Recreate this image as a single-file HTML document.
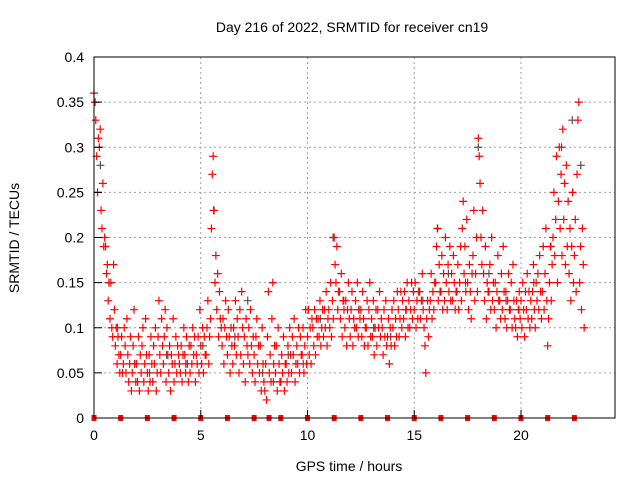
<!DOCTYPE html>
<html><head><meta charset="utf-8"><style>
html,body{margin:0;padding:0;background:#fff;}
svg{display:block;font-family:"Liberation Sans",sans-serif;}
</style></head><body>
<svg id="chart" width="640" height="480">
<rect x="0" y="0" width="640" height="480" fill="#fff"/>
<text x="352" y="32" font-size="14" text-anchor="middle" fill="#000">Day 216 of 2022, SRMTID for receiver cn19</text>
<text x="349" y="471" font-size="14" text-anchor="middle" fill="#000">GPS time / hours</text>
<text transform="translate(19,238) rotate(-90)" font-size="14" text-anchor="middle" fill="#000">SRMTID / TECUs</text>
<g id="grid"></g><g id="gray"></g><g id="red"></g><g id="axes"></g>
</svg>
<script>
const xTicks=[0,5,10,15,20];
const yTicks=[0,0.05,0.1,0.15,0.2,0.25,0.3,0.35,0.4];
const yTickLabels=["0","0.05","0.1","0.15","0.2","0.25","0.3","0.35","0.4"];
const binHours=0.25;
const redBins=[
[.36,.35,.33,.29,.25,.31],[.30,.32,.23,.21,.26,.19],[.20,.19,.16,.17,.13,.15],[.11,.15,.10,.09,.17,.12],
[.08,.10,.06,.09,.07,.05],[.07,.09,.05,.06,.10,.08],[.05,.11,.07,.04,.06,.09],[.03,.05,.08,.12,.06,.04],
[.06,.04,.09,.03,.07,.05],[.08,.10,.04,.06,.11,.07],[.05,.03,.07,.04,.09,.06],[.04,.08,.06,.10,.03,.05],
[.09,.13,.07,.05,.11,.08],[.06,.09,.12,.04,.10,.07],[.05,.08,.03,.07,.06,.11],[.04,.06,.09,.05,.08,.07],
[.06,.05,.08,.04,.07,.10],[.07,.05,.09,.06,.04,.08],[.05,.08,.06,.10,.07,.09],[.04,.07,.06,.09,.05,.12],
[.08,.06,.10,.05,.09,.07],[.07,.10,.13,.06,.09,.11],[.21,.27,.29,.23,.15,.18],[.12,.16,.09,.14,.11,.10],
[.08,.11,.06,.10,.13,.09],[.07,.12,.09,.05,.10,.08],[.06,.10,.08,.13,.07,.11],[.09,.05,.12,.07,.14,.10],
[.06,.09,.04,.11,.08,.07],[.10,.06,.12,.08,.05,.09],[.07,.04,.09,.11,.06,.08],[.05,.08,.03,.10,.06,.04],
[.03,.06,.02,.09,.14,.05],[.07,.04,.11,.15,.06,.08],[.05,.08,.03,.10,.06,.04],[.04,.07,.05,.09,.03,.06],
[.06,.04,.08,.05,.10,.07],[.05,.09,.07,.11,.04,.06],[.08,.06,.10,.05,.09,.07],[.07,.10,.05,.08,.12,.06],
[.09,.12,.07,.10,.06,.11],[.10,.08,.12,.07,.11,.09],[.11,.09,.13,.08,.10,.12],[.09,.12,.10,.14,.08,.11],
[.12,.10,.15,.09,.13,.11],[.20,.17,.15,.19,.12,.14],[.14,.11,.16,.09,.13,.12],[.10,.13,.08,.12,.15,.11],
[.09,.12,.14,.08,.11,.10],[.13,.10,.15,.09,.12,.11],[.12,.09,.14,.11,.08,.10],[.10,.13,.08,.12,.15,.09],
[.11,.09,.13,.07,.10,.12],[.08,.12,.10,.14,.09,.11],[.10,.07,.12,.09,.13,.08],[.09,.11,.06,.10,.08,.12],
[.10,.13,.08,.11,.09,.14],[.12,.09,.11,.14,.10,.13],[.11,.14,.09,.12,.15,.10],[.13,.10,.12,.15,.11,.14],
[.12,.15,.10,.13,.11,.14],[.14,.11,.13,.16,.12,.10],[.08,.05,.11,.13,.09,.12],[.13,.16,.11,.14,.12,.15],
[.15,.19,.21,.13,.17,.14],[.14,.18,.12,.16,.13,.20],[.15,.12,.17,.14,.19,.13],[.16,.13,.18,.15,.12,.14],
[.14,.17,.12,.15,.19,.13],[.21,.24,.16,.19,.14,.22],[.15,.12,.17,.14,.11,.16],[.18,.23,.13,.16,.20,.14],
[.31,.29,.26,.20,.17,.23],[.16,.13,.19,.11,.15,.14],[.14,.17,.12,.20,.13,.15],[.12,.15,.10,.14,.18,.13],
[.13,.11,.16,.12,.19,.14],[.11,.14,.10,.13,.16,.12],[.12,.15,.10,.17,.13,.11],[.10,.13,.09,.12,.14,.11],
[.13,.10,.15,.12,.09,.14],[.12,.16,.11,.14,.10,.13],[.11,.14,.17,.12,.10,.15],[.13,.16,.12,.18,.14,.11],
[.14,.19,.12,.16,.21,.13],[.08,.11,.15,.19,.13,.17],[.20,.25,.18,.22,.29,.15],[.24,.30,.21,.27,.18,.32],
[.22,.26,.17,.28,.19,.24],[.16,.21,.13,.19,.25,.15],[.18,.22,.14,.27,.33,.35],[.15,.19,.12,.21,.17,.10]
];
const grayTimes=[0.05,0.3,0.7,1.1,1.9,2.6,3.4,4.3,5.1,5.6,6.6,7.2,7.9,8.4,9.1,9.8,10.6,11.2,11.7,12.4,13.1,13.9,14.6,15.4,16.1,16.6,17.4,18.0,18.5,19.3,19.9,20.6,21.4,21.9,22.4,22.8];
const grayValues=[0.35,0.28,0.15,0.10,0.06,0.05,0.07,0.06,0.08,0.23,0.09,0.13,0.05,0.04,0.07,0.06,0.11,0.20,0.13,0.12,0.10,0.09,0.12,0.13,0.21,0.16,0.15,0.30,0.16,0.13,0.12,0.15,0.19,0.30,0.33,0.28];
const zeroTimes=[0,1.25,2.5,3.75,5,6.25,7.5,8.2,8.75,10,11.25,12.5,13.75,15,16.25,17.5,18.75,20,21.25,22.5];

const L=94,R=615,T=57,B=418,xMax=(R-L)/((521-94)/20);
const sx=t=>L+t/xMax*(R-L);
const sy=v=>B-v/0.4*(B-T);
const NS="http://www.w3.org/2000/svg";
function mk(tag,attrs,parent){const e=document.createElementNS(NS,tag);for(const k in attrs)e.setAttribute(k,attrs[k]);parent.appendChild(e);return e;}
const grid=document.getElementById('grid'),axes=document.getElementById('axes');
yTicks.forEach((v,i)=>{
  const y=sy(v);
  if(i>0&&i<yTicks.length-1){const g=mk('line',{x1:L,x2:R,y1:y,y2:y,stroke:'#a0a0a0','stroke-dasharray':'2,3'},grid);
  
  }
  const tk=mk('line',{x1:L,x2:L+8,y1:y,y2:y,stroke:'#000'},axes);
  
  
  const tx=mk('text',{x:L-10,y:y+5,'font-size':14,'text-anchor':'end'},axes);tx.textContent=yTickLabels[i];
  
  
});
xTicks.forEach(t=>{
  const x=sx(t);
  if(t>0){const g=mk('line',{x1:x,x2:x,y1:T,y2:B,stroke:'#a0a0a0','stroke-dasharray':'2,3'},grid);
  
  }
  const tk=mk('line',{x1:x,x2:x,y1:B,y2:B-8,stroke:'#000'},axes);
  
  
  const tx=mk('text',{x:x,y:B+22,'font-size':14,'text-anchor':'middle'},axes);tx.textContent=String(t);
  
  
});
const fr=mk('rect',{x:L,y:T,width:R-L,height:B-T,fill:'none',stroke:'#000'},axes);


function plus(x,y,color,parent,name){
  const p=mk('path',{d:`M${x-4},${y}h8M${x},${y-4}v8`,stroke:color,'stroke-width':1.2,fill:'none'},parent);
  
  
}
const gray=document.getElementById('gray'),red=document.getElementById('red');
grayTimes.forEach((t,i)=>plus(sx(t),sy(grayValues[i]),'#505050',gray,'gray-point'));
redBins.forEach((vals,b)=>{
  vals.forEach((v,j)=>plus(sx(b*binHours+j*binHours/vals.length),sy(v),'#ff0000',red,'red-point'));
});
zeroTimes.forEach(t=>{
  const r=mk('rect',{x:sx(t)-2.5,y:B-3,width:5,height:6,fill:'#ff0000'},red);
  
  
});
</script>
</body></html>
